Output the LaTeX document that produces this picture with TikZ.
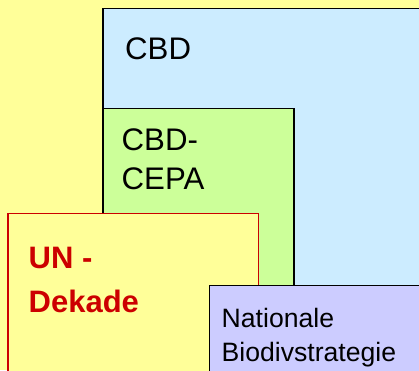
\documentclass[tikz,border=0pt]{standalone}
\usepackage{fontspec}
\setmainfont{Liberation Sans}
\definecolor{bgyellow}{HTML}{FFFF99}
\definecolor{cbdblue}{HTML}{CCECFF}
\definecolor{cepagreen}{HTML}{CCFF99}
\definecolor{natlav}{HTML}{CCCCFF}
\definecolor{unred}{HTML}{CC0000}
\tikzset{
  box/.style={draw=black, line width=1.4pt},
  redbox/.style={draw=unred, line width=1.4pt, fill=bgyellow},
  lbl/.style={anchor=base west, inner sep=0pt, font=\fontsize{31.2}{36}\selectfont},
  redlbl/.style={lbl, text=unred, font=\fontsize{31}{36}\selectfont\bfseries},
  smalllbl/.style={anchor=base west, inner sep=0pt, font=\fontsize{26.6}{30}\selectfont},
}
\begin{document}
\begin{tikzpicture}[x=1pt,y=-1pt]
\useasboundingbox (0,0) rectangle (419,370);
\clip (0,0) rectangle (419,370);
\fill[bgyellow] (0,0) rectangle (419,370);
\draw[box, fill=cbdblue] (103,8.5) rectangle (440,400);
\draw[box, fill=cepagreen] (103,108.5) rectangle (294,400);
\draw[redbox] (8,213.5) rectangle (258.5,400);
\draw[box, fill=natlav] (209.5,285.5) rectangle (440,400);
\node[lbl] (cbd) at (125,59) {CBD};
\node[lbl] (cepa1) at (121.5,150) {CBD-};
\node[lbl] (cepa2) at (121.5,189) {CEPA};
\node[redlbl] (un1) at (28.5,268) {UN -};
\node[redlbl] (un2) at (28.5,312) {Dekade};
\node[smalllbl] (nat1) at (221.5,327) {Nationale};
\node[smalllbl] (nat2) at (221.5,361) {Biodivstrategie};
\end{tikzpicture}
\end{document}
